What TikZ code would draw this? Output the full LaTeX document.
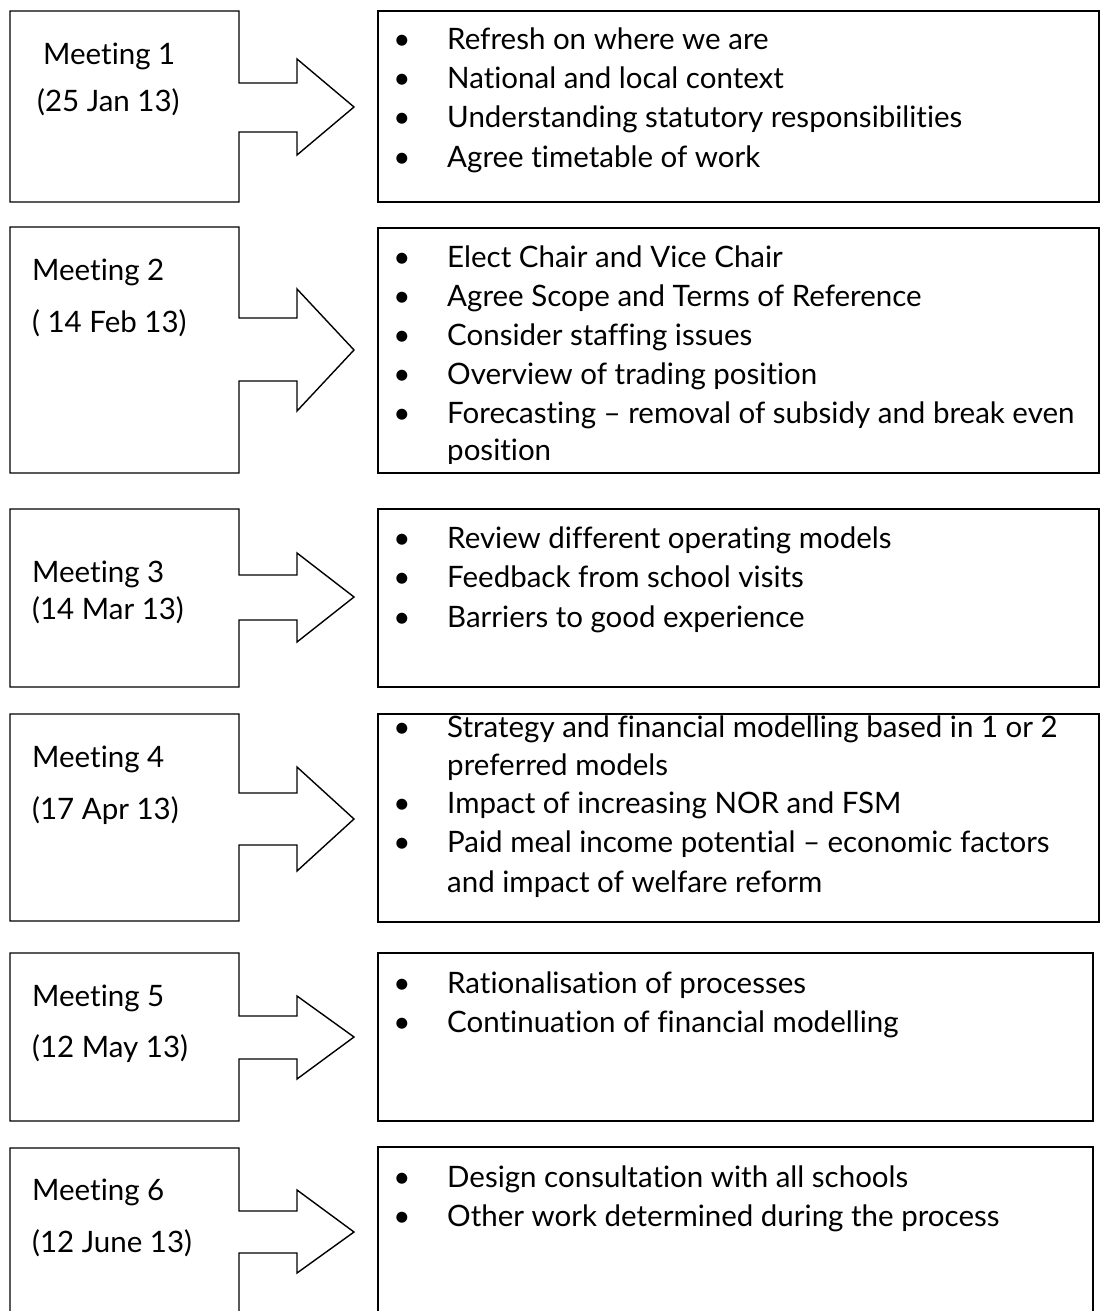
\documentclass[tikz,border=0pt]{standalone}
\usepackage{fontspec}
\setmainfont{Lato}[Ligatures={NoCommon}]
\newcommand{\fs}{\fontsize{29.5}{35}\selectfont}
\tikzset{
  outline/.style={draw=black, line width=1.4pt, line join=miter},
  rbox/.style={draw=black, line width=1.4pt, rectangle, inner sep=0pt, outer sep=0pt},
  lbl/.style={anchor=base west, inner sep=0pt, font=\fs},
  item/.style={anchor=base west, inner sep=0pt, font=\fs},
  dot/.style={anchor=base, inner sep=0pt, font=\fs},
}
% #1 top, #2 bottom, #3 shaft top, #4 shaft bottom, #5 head top, #6 head bottom, #7 tip
\newcommand{\callout}[7]{%
  \draw[outline] (10,#1) -- (239,#1) -- (239,#3) -- (297,#3) -- (297,#5) -- (354,#7)
    -- (297,#6) -- (297,#4) -- (239,#4) -- (239,#2) -- (10,#2) -- cycle;}
\newcommand{\itm}[3]{%
  \node[dot] at (402,#2) {•};
  \node[item] (#1) at (447,#2) {#3};}
\begin{document}
\begin{tikzpicture}[x=1pt,y=-1pt]
\useasboundingbox (0,0) rectangle (1100,1311);
\clip (0,0) rectangle (1100,1311);

% Row 1
\callout{11}{202}{83}{132}{59}{155}{107}
\node[lbl] (m1) at (43,65) {Meeting 1};
\node[lbl] (d1) at (37,112) {(25 Jan 13)};
\node[rbox, minimum width=721pt, minimum height=191pt] (b1) at (738.5,106.5) {};
\itm{a11}{50}{Refresh on where we are}
\itm{a12}{89}{National and local context}
\itm{a13}{128}{Understanding statutory responsibilities}
\itm{a14}{167}{Agree timetable of work}

% Row 2
\callout{227}{473}{318}{381}{289}{411}{350}
\node[lbl] (m2) at (32,280) {Meeting 2};
\node[lbl] (d2) at (32,332) {( 14 Feb 13)};
\node[rbox, minimum width=721pt, minimum height=245pt] (b2) at (738.5,350.5) {};
\begin{scope}
\clip (380,230) rectangle (1097,463);
\itm{a21}{267}{Elect Chair and Vice Chair}
\itm{a22}{306}{Agree Scope and Terms of Reference}
\itm{a23}{345}{Consider staffing issues}
\itm{a24}{384}{Overview of trading position}
\itm{a25}{423}{Forecasting – removal of subsidy and break even}
\node[item] (a26) at (447,460) {position};
\end{scope}

% Row 3
\callout{509}{687}{575}{620}{553}{642}{597}
\node[lbl] (m3) at (32,582) {Meeting 3};
\node[lbl] (d3) at (32,619) {(14 Mar 13)};
\node[rbox, minimum width=721pt, minimum height=178pt] (b3) at (738.5,598) {};
\itm{a31}{548}{Review different operating models}
\itm{a32}{587}{Feedback from school visits}
\itm{a33}{627}{Barriers to good experience}

% Row 4
\callout{714}{921}{793}{845}{767}{871}{819}
\node[lbl] (m4) at (32,767) {Meeting 4};
\node[lbl] (d4) at (32,819) {(17 Apr 13)};
\node[rbox, minimum width=721pt, minimum height=208pt] (b4) at (738.5,818) {};
\itm{a41}{737}{Strategy and financial modelling based in 1 or 2}
\node[item] (a42) at (447,775) {preferred models};
\itm{a43}{813}{Impact of increasing NOR and FSM}
\itm{a44}{852}{Paid meal income potential – economic factors}
\node[item] (a45) at (447,892) {and impact of welfare reform};

% Row 5
\callout{953}{1121}{1016}{1059}{996}{1079}{1037}
\node[lbl] (m5) at (32,1006) {Meeting 5};
\node[lbl] (d5) at (32,1057) {(12 May 13)};
\node[rbox, minimum width=715pt, minimum height=168pt] (b5) at (735.5,1037) {};
\itm{a51}{993}{Rationalisation of processes}
\itm{a52}{1032}{Continuation of financial modelling}

% Row 6
\callout{1148}{1340}{1211}{1253}{1190}{1273}{1232}
\node[lbl] (m6) at (32,1200) {Meeting 6};
\node[lbl] (d6) at (32,1252) {(12 June 13)};
\node[rbox, minimum width=715pt, minimum height=193pt] (b6) at (735.5,1243.5) {};
\itm{a61}{1187}{Design consultation with all schools}
\itm{a62}{1226}{Other work determined during the process}
\end{tikzpicture}
\end{document}
